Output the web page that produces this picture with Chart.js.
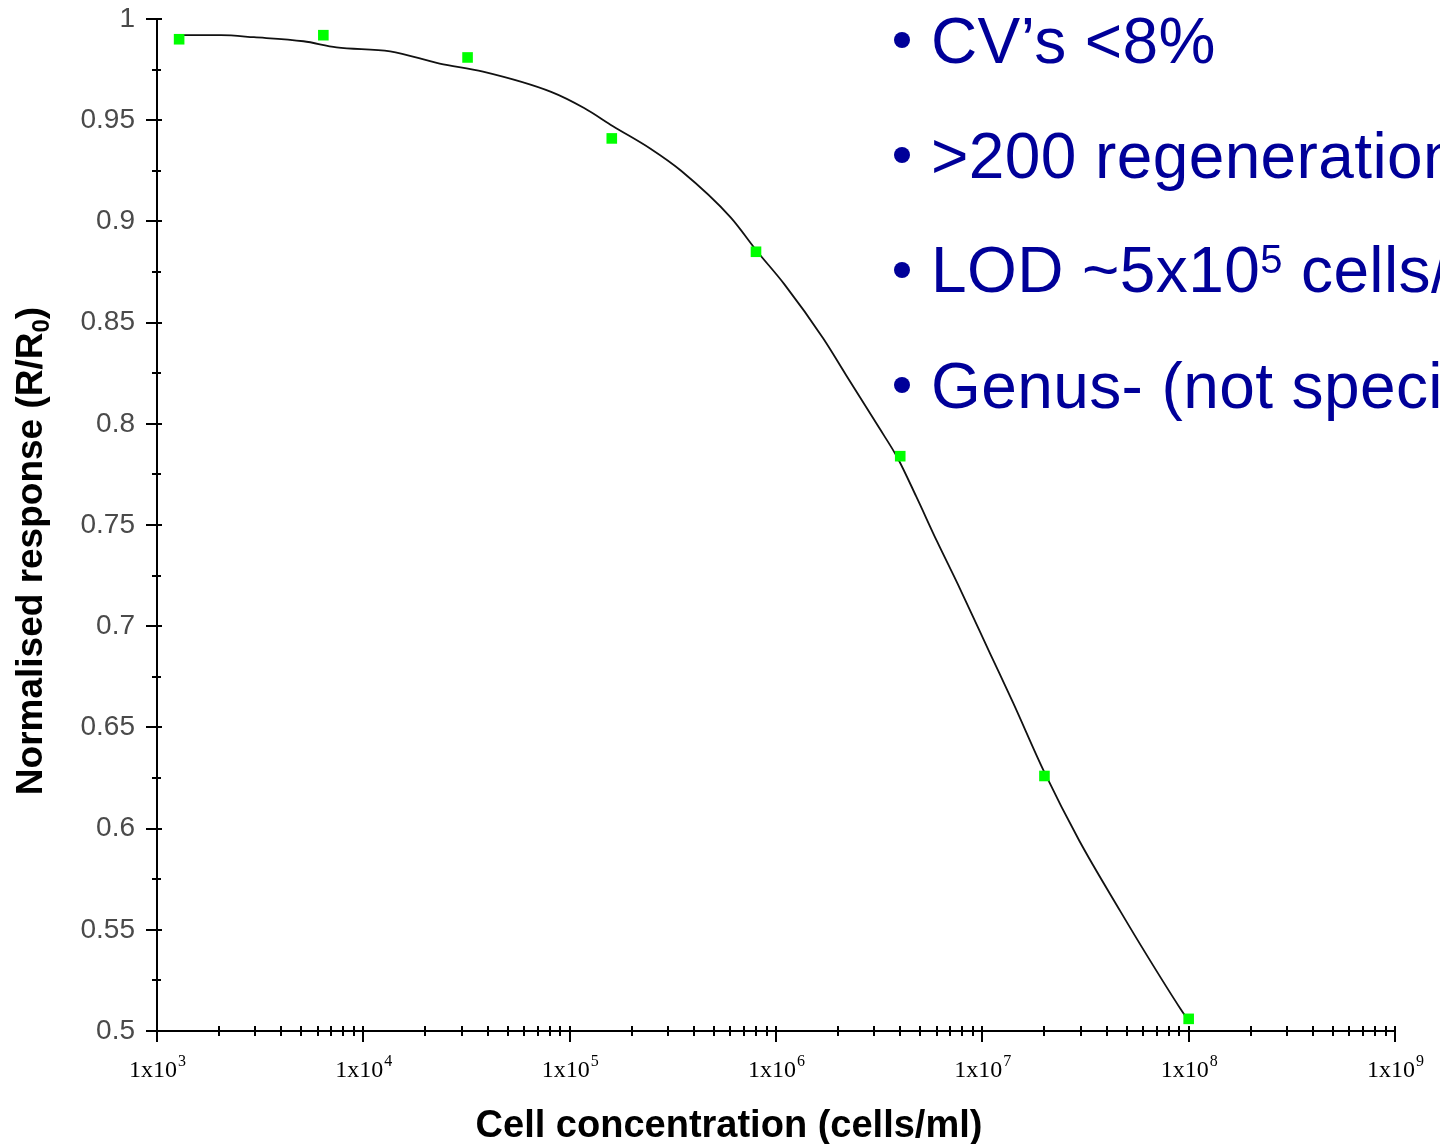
<!DOCTYPE html>
<html>
<head>
<meta charset="utf-8">
<script src="https://cdn.jsdelivr.net/npm/chart.js@4.4.1/dist/chart.umd.min.js"></script>
<style>
  html, body { margin: 0; padding: 0; background: #fff; overflow: hidden; }
  #wrap { position: relative; width: 1440px; height: 1144px; overflow: hidden; }
  #chartBox { position: absolute; left: 0; top: 0; width: 1440px; height: 1144px; }
  .bullet-line {
    position: absolute; left: 931px; white-space: nowrap;
    font-family: Arial, "Liberation Sans", sans-serif; font-size: 64px;
    line-height: 64px; letter-spacing: 0.4px; color: #000099;
  }
  .bullet-line sup { font-size: 40px; vertical-align: 19px; line-height: 0; }
  .dot { position: absolute; left: 894px; width: 16px; height: 16px; border-radius: 50%; background: #000099; }
</style>
</head>
<body>
<div id="wrap">
  <div id="chartBox"><canvas id="curveChart"></canvas></div>
  <div class="dot" style="top:32px"></div>
  <div class="bullet-line" style="top:9px">CV’s &lt;8%</div>
  <div class="dot" style="top:147px"></div>
  <div class="bullet-line" style="top:124px">&gt;200 regenerations</div>
  <div class="dot" style="top:262px"></div>
  <div class="bullet-line" style="top:238px">LOD ~5x10<sup>5</sup> cells/ml</div>
  <div class="dot" style="top:377px"></div>
  <div class="bullet-line" style="top:354px">Genus- (not species-) specific</div>
</div>
<script>
document.addEventListener("DOMContentLoaded", function () {

// measured standards (cells/ml) and normalised response
const concentrations = [1.28e3, 6.4e3, 3.2e4, 1.6e5, 8e5, 4e6, 2e7, 1e8];
const responses = [0.990, 0.992, 0.981, 0.941, 0.885, 0.784, 0.626, 0.506];

// fitted curve (log10 of concentration, response)
const fitLogConc = [3.11, 3.31, 3.47, 3.71, 3.87, 4.13, 4.37, 4.58, 4.91, 5.07, 5.21, 5.39, 5.54, 5.78, 5.91,
                    6.04, 6.23, 6.34, 6.50, 6.59, 6.68, 6.78, 6.88, 7.04, 7.15, 7.30, 7.47, 7.67, 7.80, 7.96, 8.00];
const fitResponse = [0.992, 0.992, 0.991, 0.989, 0.986, 0.984, 0.978, 0.974, 0.964, 0.956, 0.947, 0.936, 0.925, 0.902, 0.885,
                     0.869, 0.842, 0.824, 0.798, 0.783, 0.764, 0.742, 0.721, 0.686, 0.662, 0.628, 0.594, 0.559, 0.537, 0.511, 0.505];

// axis ticks
const xDecades = [3, 4, 5, 6, 7, 8, 9];
const yTickLabels = ['0.5', '0.55', '0.6', '0.65', '0.7', '0.75', '0.8', '0.85', '0.9', '0.95', '1'];

const xTitle = 'Cell concentration (cells/ml)';
const yTitle = 'Normalised response (R/R';

const pointData = concentrations.map((c, i) => ({ x: c, y: responses[i] }));
const fitData = fitLogConc.map((e, i) => ({ x: Math.pow(10, e), y: fitResponse[i] }));

// tick marks, decade labels with superscripts and the two axis titles
const axisDecor = {
    id: 'axisDecor',
    afterDraw(chart) {
        const ctx = chart.ctx;
        const xs = chart.scales.x, ys = chart.scales.y;
        const axisY = ys.bottom, axisX = xs.left;
        ctx.save();
        ctx.strokeStyle = '#000';
        ctx.lineWidth = 2;
        ctx.beginPath();
        for (let d = xDecades[0]; d <= xDecades[xDecades.length - 1]; d++) {
            for (let m = 1; m <= 9; m++) {
                if (d === xDecades[xDecades.length - 1] && m > 1) break;
                const px = Math.round(xs.getPixelForValue(m * Math.pow(10, d)));
                if (m === 1) { ctx.moveTo(px, axisY - 5); ctx.lineTo(px, axisY + 11); }
                else { ctx.moveTo(px, axisY - 5); ctx.lineTo(px, axisY + 5); }
            }
        }
        for (let i = 0; i < yTickLabels.length; i++) {
            const v = parseFloat(yTickLabels[i]);
            const py = Math.round(ys.getPixelForValue(v));
            ctx.moveTo(axisX - 11, py); ctx.lineTo(axisX + 5, py);
            if (i < yTickLabels.length - 1) {
                const pm = Math.round(ys.getPixelForValue(v + 0.025));
                ctx.moveTo(axisX - 5, pm); ctx.lineTo(axisX + 4, pm);
            }
        }
        ctx.stroke();

        // decade labels
        ctx.fillStyle = '#000';
        ctx.textBaseline = 'alphabetic';
        const bigFont = '24px "Liberation Serif", "Times New Roman", serif';
        const supFont = '16px "Liberation Serif", "Times New Roman", serif';
        xDecades.forEach(function (d) {
            const px = xs.getPixelForValue(Math.pow(10, d));
            ctx.font = bigFont;
            const base = '1x10';
            const wb = ctx.measureText(base).width;
            ctx.font = supFont;
            const we = ctx.measureText(String(d)).width;
            const start = px - (wb + we) / 2;
            ctx.font = bigFont;
            ctx.textAlign = 'left';
            ctx.fillText(base, start, 1077);
            ctx.font = supFont;
            ctx.fillText(String(d), start + wb + 1, 1066);
        });

        // x title
        ctx.font = 'bold 38px Arial, "Liberation Sans", sans-serif';
        ctx.textAlign = 'center';
        ctx.fillText(xTitle, 729, 1137);

        // y title, rotated, with subscript 0
        ctx.translate(42, 551);
        ctx.rotate(-Math.PI / 2);
        ctx.textAlign = 'left';
        ctx.font = 'bold 37px Arial, "Liberation Sans", sans-serif';
        const w1 = ctx.measureText(yTitle).width;
        const wc = ctx.measureText(')').width;
        ctx.font = 'bold 24px Arial, "Liberation Sans", sans-serif';
        const w0 = ctx.measureText('0').width;
        const s = -(w1 + w0 + wc) / 2;
        ctx.font = 'bold 37px Arial, "Liberation Sans", sans-serif';
        ctx.fillText(yTitle, s, 0);
        ctx.fillText(')', s + w1 + w0, 0);
        ctx.font = 'bold 24px Arial, "Liberation Sans", sans-serif';
        ctx.fillText('0', s + w1, 7);
        ctx.restore();
    }
};

const config = {
    type: 'scatter',
    data: {
        datasets: [
            {
                label: 'Standards',
                data: pointData,
                pointStyle: 'rect',
                pointRadius: 7.5,
                pointHoverRadius: 7.5,
                pointBackgroundColor: '#00ff00',
                pointBorderWidth: 0,
                showLine: false,
                order: 0
            },
            {
                label: 'Fit',
                data: fitData,
                showLine: true,
                borderColor: '#111',
                borderWidth: 1.8,
                pointRadius: 0,
                cubicInterpolationMode: 'monotone',
                fill: false,
                order: 1
            }
        ]
    },
    options: {
        responsive: true,
        maintainAspectRatio: false,
        animation: false,
        layout: { padding: { top: 19, right: 45, left: 0, bottom: 0 } },
        plugins: { legend: { display: false }, tooltip: { enabled: false } },
        scales: {
            x: {
                type: 'logarithmic',
                min: 1e3,
                max: 1e9,
                grid: { display: false, drawTicks: false },
                border: { display: true, color: '#000', width: 2 },
                ticks: { display: false },
                afterFit: function (scale) { scale.height = 113; }
            },
            y: {
                type: 'linear',
                min: 0.5,
                max: 1,
                grid: { display: false, drawTicks: true, tickLength: 22 },
                border: { display: true, color: '#000', width: 2 },
                ticks: {
                    stepSize: 0.05,
                    autoSkip: false,
                    padding: 0,
                    color: '#4a4a4a',
                    font: { family: 'Arial, "Liberation Sans", sans-serif', size: 28 },
                    callback: function (value) {
                        const lbl = String(Number(value.toFixed(2)));
                        return yTickLabels.includes(lbl) ? lbl : '';
                    }
                },
                afterFit: function (scale) { scale.width = 157; }
            }
        }
    },
    plugins: [axisDecor]
};

var curveChart = new Chart(document.getElementById('curveChart'), config);

});
</script>
</body>
</html>
